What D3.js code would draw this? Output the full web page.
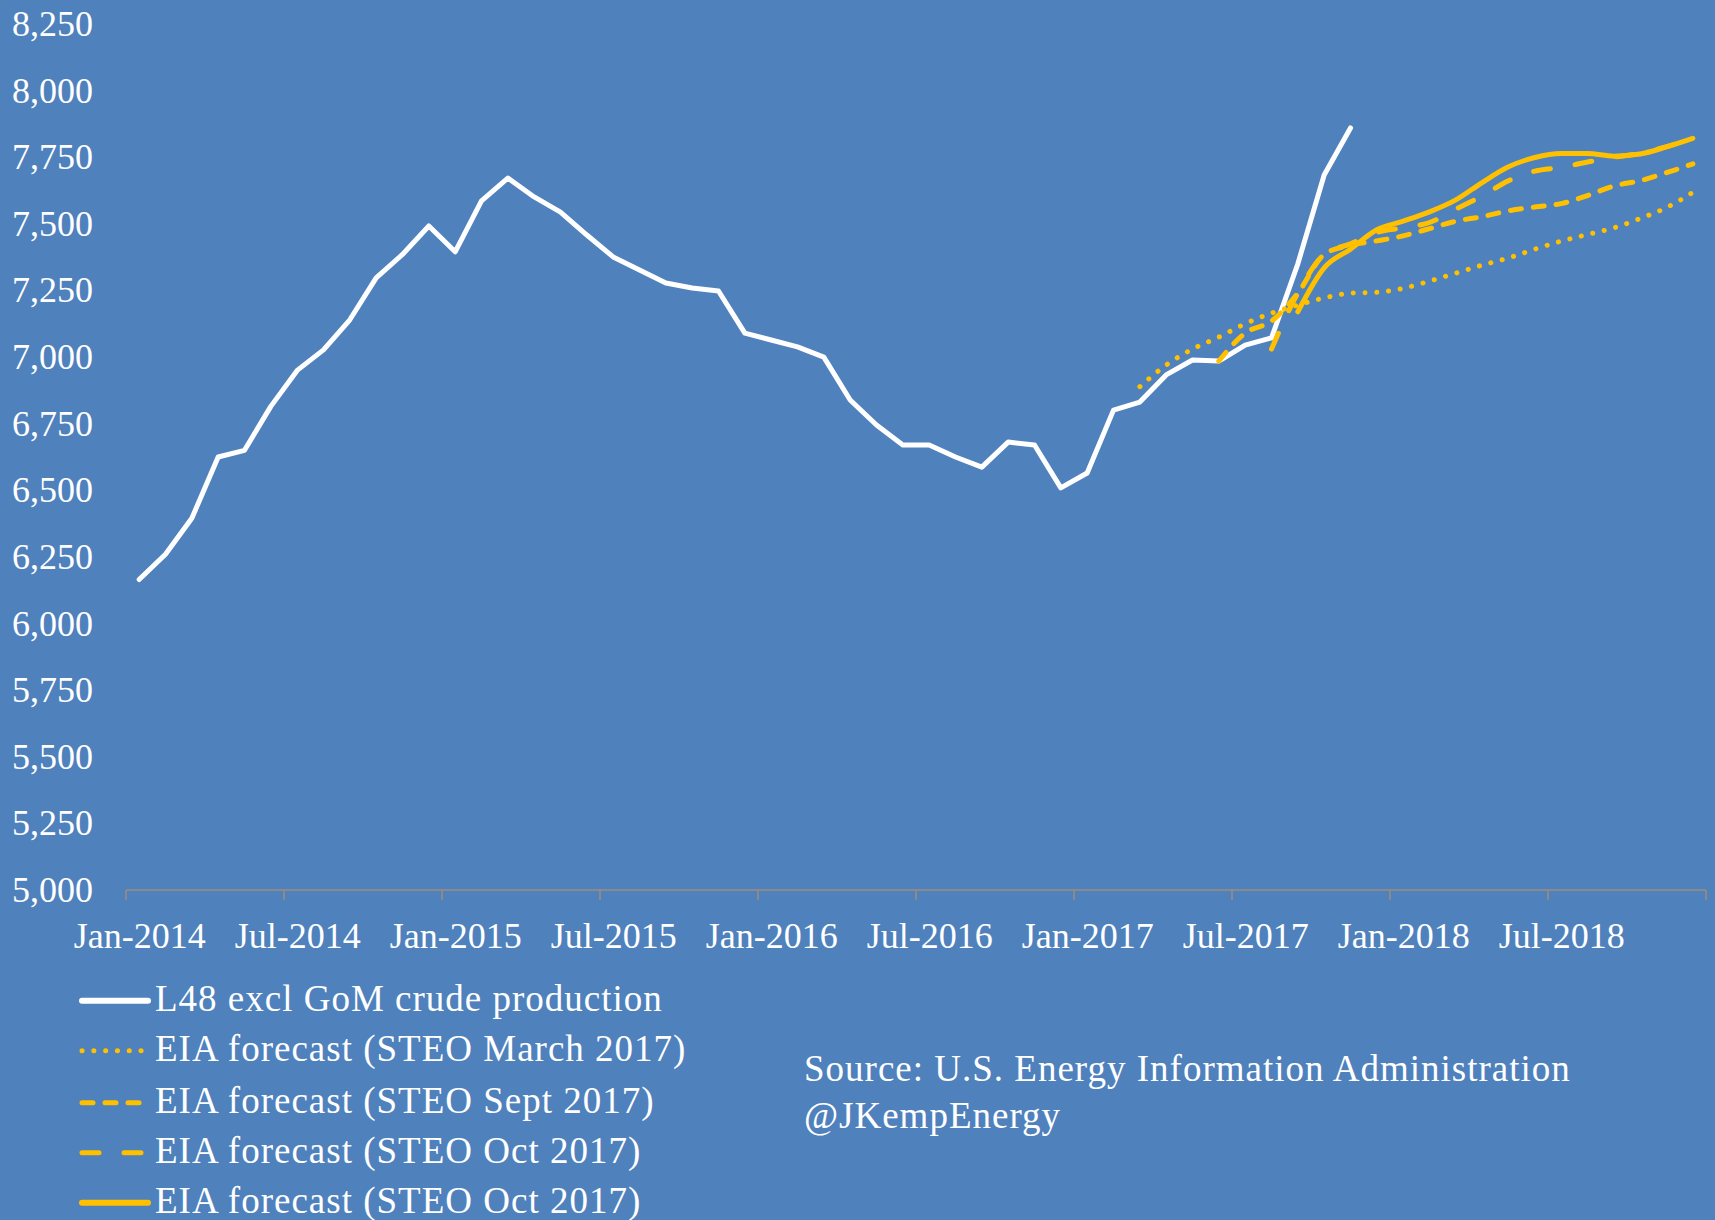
<!DOCTYPE html>
<html>
<head>
<meta charset="utf-8">
<script src="https://cdn.jsdelivr.net/npm/d3@7"></script>
<style>
  html, body { margin: 0; padding: 0; background: #4F81BD; }
  svg { display: block; }
  text { font-family: "Liberation Serif", "Times New Roman", serif; fill: #ffffff; }
</style>
</head>
<body>
<svg id="chart" width="1715" height="1220"></svg>
<script>
// ---------------- data ----------------
const months = d3.timeMonths(new Date(2014, 0, 1), new Date(2019, 0, 1)).map(d3.timeFormat("%b-%Y")); // Jan-2014 .. Dec-2018
const tickLabels = ["Jan-2014","Jul-2014","Jan-2015","Jul-2015","Jan-2016","Jul-2016","Jan-2017","Jul-2017","Jan-2018","Jul-2018"];
const yTicks = [5000,5250,5500,5750,6000,6250,6500,6750,7000,7250,7500,7750,8000,8250];

// L48 excl GoM crude production, Jan-2014 .. Nov-2017 (thousand b/d)
const productionStart = "Jan-2014";
const production = [6165,6260,6395,6625,6650,6815,6950,7027,7140,7297,7385,7492,
                    7395,7586,7672,7601,7544,7458,7376,7327,7278,7259,7248,7090,
                    7064,7038,7000,6839,6745,6670,6670,6625,6587,6681,6670,6509,
                    6565,6801,6831,6933,6989,6985,7045,7072,7350,7683,7860];
// EIA forecast (STEO March 2017), Mar-2017 .. Dec-2018
const steoMarStart = "Mar-2017";
const steoMar = [6889,6970,7030,7075,7125,7165,7195,7222,7240,7243,7258,7285,7315,7345,7372,7405,7435,7460,7485,7520,7561,7618];
// EIA forecast (STEO Sept 2017), Jun-2017 .. Dec-2018
const steoSepStart = "Jun-2017";
const steoSep = [6985,7090,7135,7240,7385,7420,7436,7455,7482,7510,7527,7549,7563,7576,7606,7642,7662,7692,7725];
// EIA forecast (STEO Oct 2017) dashed, Aug-2017 .. Dec-2018
const steoOctStart = "Aug-2017";
const steoOct = [7030,7240,7385,7425,7468,7485,7505,7555,7605,7662,7698,7712,7732,7750,7765,7790,7821];
// EIA forecast (STEO Oct 2017) solid, Sep-2017 .. Dec-2018
const steoOct2Start = "Sep-2017";
const steoOct2 = [7170,7335,7405,7478,7510,7545,7590,7655,7714,7749,7764,7764,7754,7762,7789,7821];

const legendLabels = [
  "L48 excl GoM crude production",
  "EIA forecast (STEO March 2017)",
  "EIA forecast (STEO Sept 2017)",
  "EIA forecast (STEO Oct 2017)",
  "EIA forecast (STEO Oct 2017)"
];
const sourceLines = ["Source: U.S. Energy Information Administration", "@JKempEnergy"];

// ---------------- layout ----------------
const svg = d3.select("#chart");
const plotLeft = 126, plotRight = 1706, plotTop = 24, plotBottom = 890;
const WHITE = "#ffffff", GOLD = "#FFC000";

const xBand = d3.scaleBand().domain(months).range([plotLeft, plotRight]).paddingInner(0).paddingOuter(0);
const xc = m => xBand(m) + xBand.bandwidth() / 2;
const y = d3.scaleLinear().domain([5000, 8250]).range([plotBottom, plotTop]);

function toPoints(start, vals) {
  const i0 = months.indexOf(start);
  return vals.map((v, k) => ({ m: months[i0 + k], v }));
}

// y axis labels
const yAxis = d3.axisLeft(y).tickValues(yTicks).tickFormat(d3.format(",")).tickSize(0).tickPadding(0);
const gy = svg.append("g").attr("transform", "translate(93,0)").call(yAxis);
gy.select(".domain").remove();
gy.selectAll("text").attr("font-size", 36).attr("fill", WHITE)
  .style("font-family", '"Liberation Serif", serif');

// x axis: line, tick marks between categories, labels centered on categories
const xAxisG = svg.append("g");
xAxisG.append("line")
  .attr("x1", plotLeft).attr("x2", plotRight)
  .attr("y1", plotBottom).attr("y2", plotBottom)
  .attr("stroke", "#8a8a8a").attr("stroke-width", 2);
const tickPos = tickLabels.map(m => xBand(m)).concat([plotRight]);
xAxisG.selectAll("line.tick").data(tickPos).join("line")
  .attr("class", "tick")
  .attr("x1", d => d).attr("x2", d => d)
  .attr("y1", plotBottom).attr("y2", plotBottom + 10)
  .attr("stroke", "#8a8a8a").attr("stroke-width", 2);
const xLabelAxis = d3.axisBottom(d3.scalePoint().domain(months).range([xc(months[0]), xc(months[months.length - 1])]))
  .tickValues(tickLabels).tickSize(0).tickPadding(0);
const gx = svg.append("g").attr("transform", `translate(0,${plotBottom + 32})`).call(xLabelAxis);
gx.select(".domain").remove();
gx.selectAll("text").attr("font-size", 36).attr("fill", WHITE).attr("dy", "0.71em")
  .style("font-family", '"Liberation Serif", serif');

// ---------------- series ----------------
const lineLinear = d3.line().x(d => xc(d.m)).y(d => y(d.v));
const lineSmooth = d3.line().x(d => xc(d.m)).y(d => y(d.v)).curve(d3.curveMonotoneX);

const seriesDefs = [
  { pts: toPoints(productionStart, production), gen: lineLinear, color: WHITE, width: 5, dash: null },
  { pts: toPoints(steoMarStart, steoMar), gen: lineSmooth, color: GOLD, width: 5, dash: "0.1,11.7" },
  { pts: toPoints(steoSepStart, steoSep), gen: lineSmooth, color: GOLD, width: 5, dash: "11,12" },
  { pts: toPoints(steoOctStart, steoOct), gen: lineSmooth, color: GOLD, width: 5, dash: "17,25" },
  { pts: toPoints(steoOct2Start, steoOct2), gen: lineSmooth, color: GOLD, width: 5, dash: null }
];

seriesDefs.forEach(s => {
  svg.append("path")
    .datum(s.pts)
    .attr("d", s.gen)
    .attr("fill", "none")
    .attr("stroke", s.color)
    .attr("stroke-width", s.width)
    .attr("stroke-linecap", "round")
    .attr("stroke-linejoin", "round")
    .attr("stroke-dasharray", s.dash);
});

// ---------------- legend ----------------
const legendRows = [1000.7, 1050.7, 1102.7, 1152.7, 1202.7];
const legend = svg.append("g");
seriesDefs.forEach((s, i) => {
  const gy0 = legendRows[i];
  legend.append("line")
    .attr("x1", 82).attr("x2", s.dash === "0.1,11.7" ? 142 : 148)
    .attr("y1", gy0).attr("y2", gy0)
    .attr("stroke", s.color)
    .attr("stroke-width", i === 0 || i === 4 ? 6 : 5)
    .attr("stroke-linecap", "round")
    .attr("stroke-dasharray", s.dash);
  legend.append("text")
    .attr("x", 155).attr("y", gy0 + 10.5)
    .attr("font-size", 37)
    .attr("letter-spacing", 1)
    .text(legendLabels[i]);
});

// ---------------- source note ----------------
svg.append("g").selectAll("text").data(sourceLines).join("text")
  .attr("x", 804)
  .attr("y", (d, i) => 1081 + i * 47)
  .attr("font-size", 37)
  .attr("letter-spacing", 1)
  .text(d => d);
</script>
</body>
</html>
